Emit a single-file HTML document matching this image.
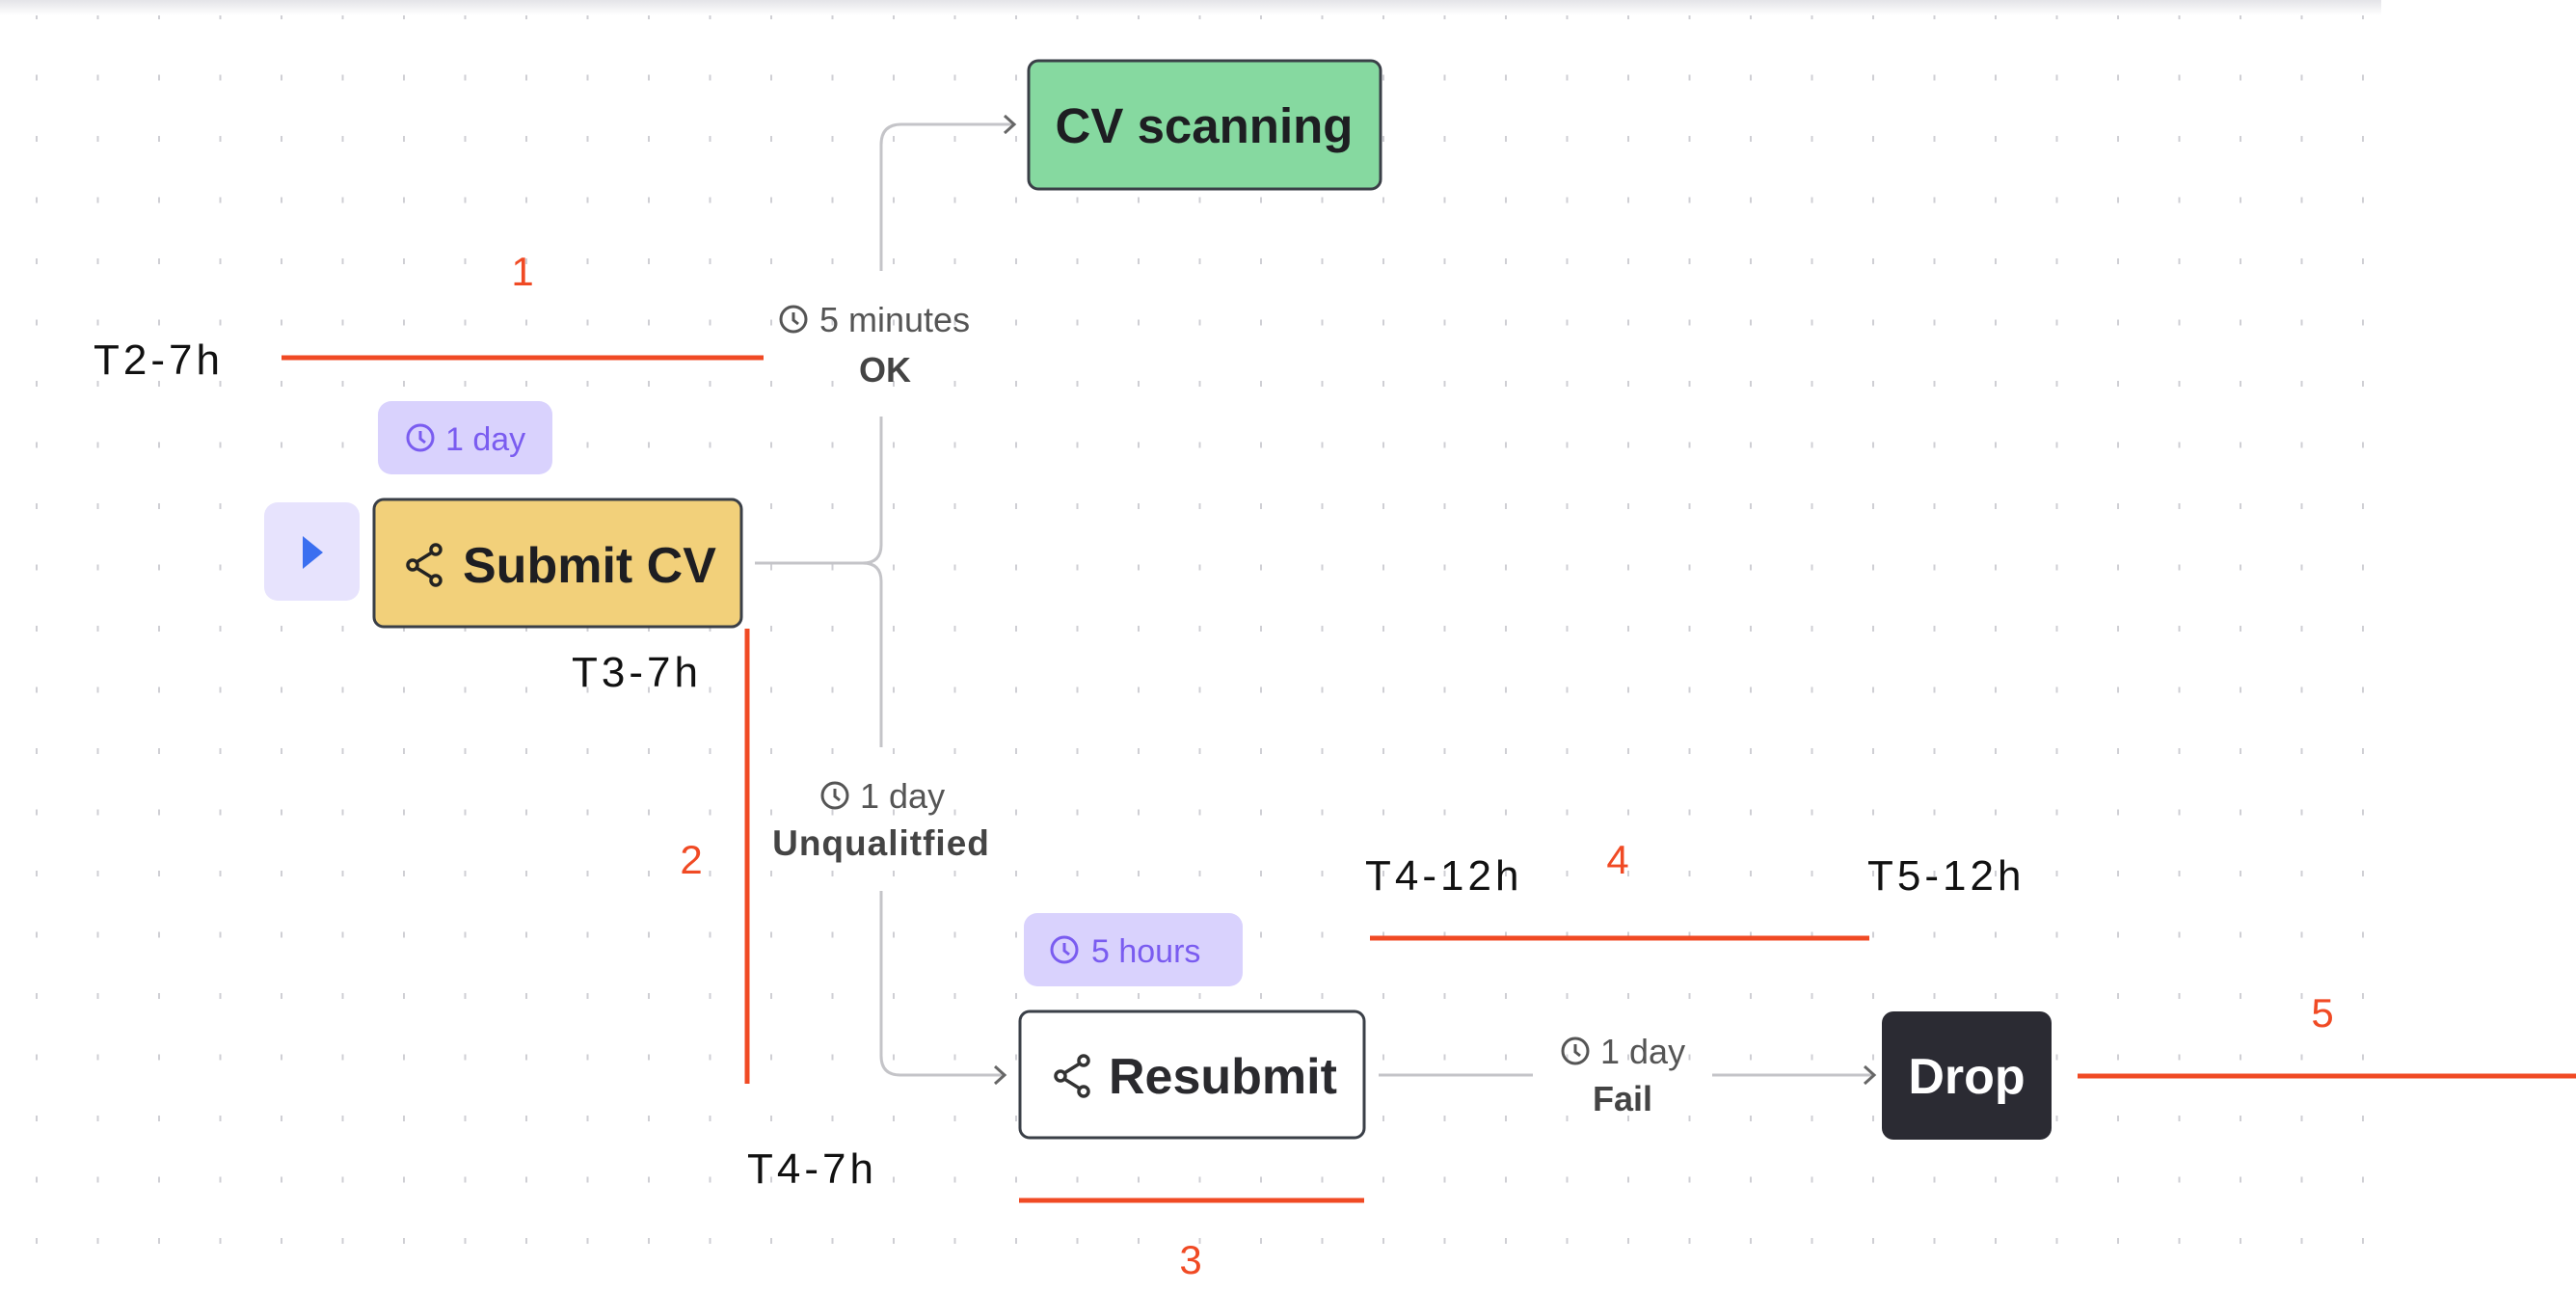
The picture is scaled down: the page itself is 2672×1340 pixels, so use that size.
<!DOCTYPE html>
<html><head><meta charset="utf-8"><style>
html,body{margin:0;padding:0;background:#fff;}
svg{display:block;}
text{font-family:"Liberation Sans",sans-serif;}
</style></head><body>
<svg width="2672" height="1340" viewBox="0 0 2672 1340" xmlns="http://www.w3.org/2000/svg">
<defs>
<pattern id="g" x="36" y="14" width="63.5" height="63.5" patternUnits="userSpaceOnUse">
<rect x="1" y="0" width="2" height="6" fill="#cfcfd4"/>
</pattern>
<linearGradient id="tb" x1="0" y1="0" x2="0" y2="1"><stop offset="0" stop-color="#e4e4e8"/><stop offset="1" stop-color="#ffffff"/></linearGradient>
<g id="clk"><circle cx="0" cy="0" r="13" fill="none" stroke-width="3"/><path d="M0 -7 V1 L5 5" fill="none" stroke-width="3"/></g>
</defs>
<rect x="0" y="0" width="2470" height="1320" fill="url(#g)"/>
<rect x="0" y="0" width="2470" height="16" fill="url(#tb)"/>

<g fill="none" stroke="#c4c4c8" stroke-width="3">
<path d="M783 584 H895 Q914 584 914 565 V432"/>
<path d="M914 281 V150 Q914 129 935 129 H1050"/>
<path d="M1042 120 L1052 129 L1042 138" stroke="#666"/>
<path d="M895 584 Q914 584 914 603 V775"/>
<path d="M914 924 V1095 Q914 1115 934 1115 H1040"/>
<path d="M1032 1106 L1042 1115 L1032 1124" stroke="#666"/>
<path d="M1430 1115 H1590"/>
<path d="M1776 1115 H1942"/>
<path d="M1934 1106 L1944 1115 L1934 1124" stroke="#666"/>
</g>

<g stroke="#555"><use href="#clk" x="823" y="331"/></g>
<text x="850" y="344" font-size="36" fill="#555">5 minutes</text>
<text x="918" y="396" font-size="36" font-weight="bold" fill="#444" text-anchor="middle">OK</text>
<g stroke="#555"><use href="#clk" x="866" y="825"/></g>
<text x="892" y="838" font-size="36" fill="#555">1 day</text>
<text x="914" y="887" font-size="37" font-weight="bold" fill="#444" text-anchor="middle" letter-spacing="1">Unqualitfied</text>
<g stroke="#555"><use href="#clk" x="1634" y="1090"/></g>
<text x="1660" y="1103" font-size="36" fill="#555">1 day</text>
<text x="1683" y="1152" font-size="36" font-weight="bold" fill="#444" text-anchor="middle">Fail</text>

<rect x="1067" y="63" width="365" height="133" rx="10" fill="#86d9a0" stroke="#3a3f47" stroke-width="3"/>
<text x="1249" y="148" font-size="51" font-weight="bold" fill="#1e1e22" text-anchor="middle">CV scanning</text>

<rect x="274" y="521" width="99" height="102" rx="14" fill="#e7e3fd"/>
<path d="M314 556 L335 573 L314 590 Z" fill="#3b6ff0"/>

<rect x="392" y="416" width="181" height="76" rx="14" fill="#d9d2fd"/>
<g stroke="#7a5cf0"><use href="#clk" x="436" y="454"/></g>
<text x="462" y="467" font-size="34" fill="#7a5cf0">1 day</text>

<rect x="388" y="518" width="381" height="132" rx="10" fill="#f2d07a" stroke="#3a3f47" stroke-width="3"/>
<g fill="none" stroke="#222" stroke-width="3.5"><circle cx="428" cy="586" r="5"/><circle cx="452" cy="570" r="5"/><circle cx="452" cy="602" r="5"/><path d="M432 583 L448 573 M432 589 L448 599"/></g>
<text x="480" y="604" font-size="52" font-weight="bold" fill="#1e1e22">Submit CV</text>

<rect x="1062" y="947" width="227" height="76" rx="14" fill="#d9d2fd"/>
<g stroke="#7a5cf0"><use href="#clk" x="1104" y="985"/></g>
<text x="1132" y="998" font-size="34" fill="#7a5cf0">5 hours</text>

<rect x="1058" y="1049" width="357" height="131" rx="10" fill="#fff" stroke="#3a3f47" stroke-width="3"/>
<g fill="none" stroke="#333" stroke-width="3.5"><circle cx="1100" cy="1116" r="5"/><circle cx="1124" cy="1100" r="5"/><circle cx="1124" cy="1132" r="5"/><path d="M1104 1113 L1120 1103 M1104 1119 L1120 1129"/></g>
<text x="1150" y="1134" font-size="52" font-weight="bold" fill="#2a2a2e">Resubmit</text>

<rect x="1952" y="1049" width="176" height="133" rx="12" fill="#2b2b33"/>
<text x="2040" y="1134" font-size="52" font-weight="bold" fill="#fff" text-anchor="middle">Drop</text>

<g stroke="#f04a24" stroke-width="5">
<line x1="292" y1="371" x2="792" y2="371"/>
<line x1="775" y1="652" x2="775" y2="1124"/>
<line x1="1057" y1="1245" x2="1415" y2="1245"/>
<line x1="1421" y1="973" x2="1939" y2="973"/>
<line x1="2155" y1="1116" x2="2672" y2="1116"/>
</g>
<g font-size="42" fill="#f04a24" text-anchor="middle">
<text x="542" y="296">1</text>
<text x="717" y="906">2</text>
<text x="1235" y="1321">3</text>
<text x="1678" y="906">4</text>
<text x="2409" y="1065">5</text>
</g>
<g font-size="44" fill="#111" letter-spacing="4">
<text x="97" y="388">T2-7h</text>
<text x="593" y="712">T3-7h</text>
<text x="775" y="1227">T4-7h</text>
<text x="1416" y="923">T4-12h</text>
<text x="1937" y="923">T5-12h</text>
</g>
</svg>
</body></html>
